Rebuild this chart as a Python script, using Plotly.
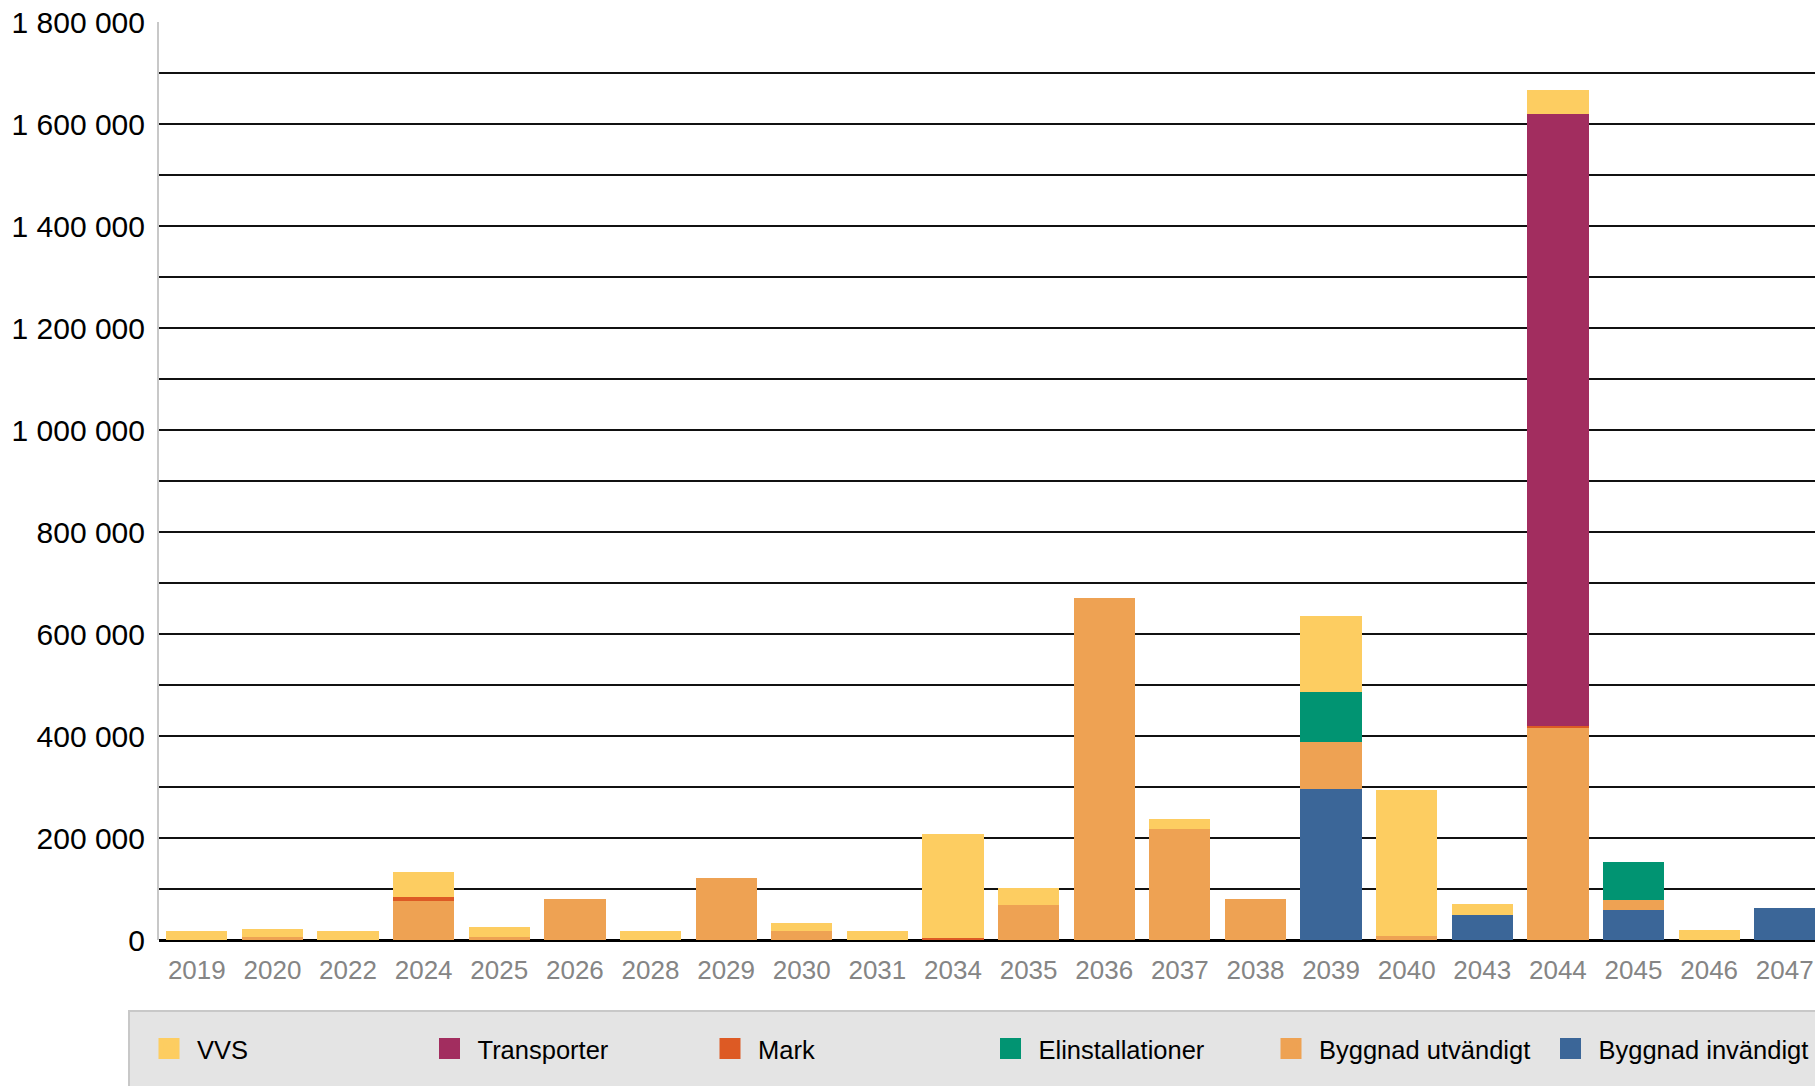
import plotly.graph_objects as go

years = ['2019', '2020', '2022', '2024', '2025', '2026', '2028', '2029', '2030', '2031', '2034',
         '2035', '2036', '2037', '2038', '2039', '2040', '2043', '2044', '2045', '2046', '2047']

byggnad_invandigt = [0, 0, 0, 0, 0, 0, 0, 0, 0, 0, 0,
                     0, 0, 0, 0, 297000, 0, 50000, 0, 58000, 0, 62000]
byggnad_utvandigt = [0, 6500, 0, 77000, 6500, 81000, 0, 121000, 18500, 0, 0,
                     69500, 670000, 218500, 81000, 90500, 7000, 0, 415000, 20000, 0, 0]
elinstallationer = [0, 0, 0, 0, 0, 0, 0, 0, 0, 0, 0,
                    0, 0, 0, 0, 98000, 0, 0, 0, 74500, 0, 0]
mark = [0, 0, 0, 8000, 0, 0, 0, 0, 0, 0, 3000,
        0, 0, 0, 0, 0, 0, 0, 4000, 0, 0, 0]
transporter = [0, 0, 0, 0, 0, 0, 0, 0, 0, 0, 0,
               0, 0, 0, 0, 0, 0, 0, 1201000, 0, 0, 0]
vvs = [18000, 16000, 18000, 47500, 19500, 0, 18000, 0, 15500, 18000, 204000,
       31500, 0, 19500, 0, 149000, 286500, 20000, 47000, 0, 19000, 0]

y_ticks = [0, 200000, 400000, 600000, 800000, 1000000, 1200000, 1400000, 1600000, 1800000]

# stack order bottom -> top
series = [
    ("Byggnad invändigt", byggnad_invandigt, "#3B6698"),
    ("Byggnad utvändigt", byggnad_utvandigt, "#EEA253"),
    ("Elinstallationer", elinstallationer, "#019472"),
    ("Mark", mark, "#DD5A24"),
    ("Transporter", transporter, "#A22D5F"),
    ("VVS", vvs, "#FDCD61"),
]

fig = go.Figure()
for name, vals, col in series:
    fig.add_trace(go.Bar(x=years, y=vals, name=name, marker=dict(color=col, line=dict(width=0)),
                         showlegend=False))

# legend entries (order as in reference: VVS first); last one in a second legend box
for i, (name, vals, col) in enumerate(reversed(series)):
    fig.add_trace(go.Scatter(x=[None], y=[None], mode="markers", name=name,
                             marker=dict(symbol="square", size=16, color=col,
                                         line=dict(color=col, width=5)),
                             showlegend=True,
                             legend="legend2" if i == len(series) - 1 else "legend"))

W, H = 1815, 1086
ml, mt, mb = 159, 22, 146
pw = W - ml
ph = H - mt - mb

def px2paper_x(px):
    return (px - ml) / pw

def px2paper_y(py):
    return (H - mb - py) / ph

# legend background box
fig.add_shape(type="rect", xref="paper", yref="paper",
              x0=px2paper_x(129), x1=px2paper_x(1830), y0=px2paper_y(1011), y1=px2paper_y(1100),
              fillcolor="#E4E4E4", line=dict(color="#C8C8C8", width=2), layer="below")

legend_common = dict(orientation="h", xanchor="left", y=px2paper_y(1049), yanchor="middle",
                     itemwidth=46, bgcolor="rgba(0,0,0,0)",
                     font=dict(size=25.5, color="black"), itemsizing="trace", traceorder="normal")

fig.update_layout(
    width=W, height=H,
    margin=dict(l=ml, r=0, t=mt, b=mb, pad=0),
    paper_bgcolor="white", plot_bgcolor="white",
    barmode="stack", bargap=0.19,
    separators=", ",
    font=dict(family="Liberation Sans, Arial, sans-serif", color="black"),
    xaxis=dict(type="category", range=[-0.5, 21.4], showgrid=False,
               tickfont=dict(size=26, color="#858585"), ticks="", ticklabelstandoff=12,
               showline=False, fixedrange=True),
    yaxis=dict(range=[0, 1800000], tickvals=y_ticks, tickformat=",d",
               tickfont=dict(size=30, color="black"), ticks="", ticklabelstandoff=6,
               showgrid=True, gridcolor="#111111", gridwidth=2,
               minor=dict(dtick=100000, tick0=0, showgrid=True, gridcolor="#111111", gridwidth=2),
               zeroline=True, zerolinecolor="black", zerolinewidth=3,
               showline=True, linecolor="#C8C8C8", linewidth=2, fixedrange=True),
    legend=dict(x=px2paper_x(141), entrywidth=219.5, entrywidthmode="pixels", **legend_common),
    legend2=dict(x=px2paper_x(141 + 5 * 280.3), **legend_common),
)

fig.write_html("out.html")
